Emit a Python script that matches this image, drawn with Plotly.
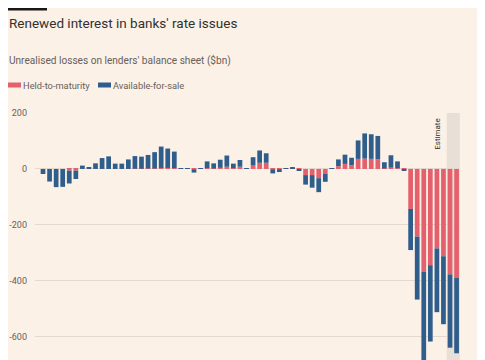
import plotly.graph_objects as go

quarters = [f"{y} Q{q}" for y in range(2008, 2024) for q in range(1, 5)]

held_to_maturity = [
    0, 0, 0, 0, -6, -6, 0, 0,
    0, 0, 0, 0, 0, 0, 1, 1,
    2, 2, 4, 4, 3, 1, 1, -2,
    1, 3, 2, 5, 8, 3, 8, 1,
    12, 22, 22, -2, -1, 1, 2, -1,
    -22, -22, -33, -18, 1, 10, 18, 13,
    36, 37, 36, 35, 2, 6, 3, -1,
    -143, -242, -368, -344, -284, -312, -377, -389,
]
available_for_sale = [
    -18, -45, -65, -64, -46, -30, 12, 6,
    20, 39, 45, 19, 19, 34, 45, 43,
    48, 58, 76, 69, 59, 2, 2, -11,
    2, 24, 18, 28, 40, 16, 24, 2,
    30, 44, 34, -14, -10, 1, 2, -4,
    -34, -45, -50, -28, 1, 24, 33, 27,
    66, 90, 88, 83, 22, 43, 24, -5,
    -147, -225, -322, -273, -228, -243, -262, -270,
]
y_ticks = [-600, -400, -200, 0, 200]
y_tick_labels = ["-600", "-400", "-200", "0", "200"]
estimate_start = 62  # index of first estimated quarter

RED = "#e4606d"
BLUE = "#2f5e8c"
BG = "#fcf1e6"
FONT = "Roboto"

# page is offset by the 8px body margin
OFF = 8
W, H = 485 - OFF, 360 - OFF
L, T = 35 - OFF, 113 - OFF
R, B = W - (460 - OFF), 0
pw, ph = W - L - R, H - T - B


def px_x(p):  # p: page pixel
    return (p - OFF - L) / pw


def px_y(p):
    return 1 + (T - (p - OFF)) / ph


fig = go.Figure()
fig.add_trace(go.Bar(x=quarters, y=held_to_maturity, name="Held-to-maturity",
                     marker=dict(color=RED, line=dict(width=0))))
fig.add_trace(go.Bar(x=quarters, y=available_for_sale, name="Available-for-sale",
                     marker=dict(color=BLUE, line=dict(width=0))))

shapes = [
    dict(type="rect", xref="x", yref="paper", x0=estimate_start - 0.5, x1=len(quarters) - 0.5,
         y0=0, y1=1, fillcolor="#e8dfd6", line=dict(width=0), layer="below"),
    dict(type="rect", xref="paper", yref="paper", x0=px_x(8), x1=px_x(47),
         y0=px_y(10.5), y1=px_y(8), fillcolor="#1a1817", line=dict(width=0)),
    # legend keys
    dict(type="rect", xref="paper", yref="paper", x0=px_x(8), x1=px_x(21),
         y0=px_y(87.5), y1=px_y(82.5), fillcolor=RED, line=dict(width=0)),
    dict(type="rect", xref="paper", yref="paper", x0=px_x(98), x1=px_x(111),
         y0=px_y(87.5), y1=px_y(82.5), fillcolor=BLUE, line=dict(width=0)),
]

annotations = [
    dict(text="Renewed interest in banks' rate issues", xref="paper", yref="paper",
         x=px_x(8), y=px_y(22.5), xanchor="left", yanchor="middle", showarrow=False,
         xshift=-1, font=dict(size=13.5, color="#33302e", family=FONT)),
    dict(text="Unrealised losses on lenders' balance sheet ($bn)", xref="paper", yref="paper",
         x=px_x(8), y=px_y(60), xanchor="left", yanchor="middle", showarrow=False,
         xshift=-1, font=dict(size=10.1, color="#66605c", family=FONT)),
    dict(text="Held-to-maturity", xref="paper", yref="paper",
         x=px_x(22), y=px_y(85), xanchor="left", yanchor="middle", showarrow=False,
         xshift=-1, font=dict(size=9.3, color="#66605c", family=FONT)),
    dict(text="Available-for-sale", xref="paper", yref="paper",
         x=px_x(112), y=px_y(85), xanchor="left", yanchor="middle", showarrow=False,
         xshift=-1, font=dict(size=9.3, color="#66605c", family=FONT)),
    dict(text="Estimate", xref="x", yref="paper", x=estimate_start - 0.5, y=1,
         xanchor="right", yanchor="top", xshift=-3, yshift=-4, textangle=-90,
         showarrow=False, font=dict(size=8, color="#33302e", family=FONT)),
]

fig.update_layout(
    width=W, height=H,
    margin=dict(l=L, r=R, t=T, b=B, pad=0),
    paper_bgcolor=BG, plot_bgcolor=BG,
    barmode="relative", bargap=0.28,
    font=dict(family=FONT, color="#66605c", size=9),
    showlegend=False,
    xaxis=dict(type="category", range=[-1.22, 63.52], showticklabels=False,
               showgrid=False, zeroline=False, showline=False, ticks="", fixedrange=True),
    yaxis=dict(range=[-683, 200], tickvals=y_ticks, ticktext=y_tick_labels,
               showgrid=True, gridcolor="#e5d9ce", gridwidth=1, zeroline=False,
               showline=False, ticks="", ticklabelstandoff=7,
               tickfont=dict(size=9, color="#66605c"), fixedrange=True),
    shapes=shapes,
    annotations=annotations,
)

fig.write_html("out.html")
